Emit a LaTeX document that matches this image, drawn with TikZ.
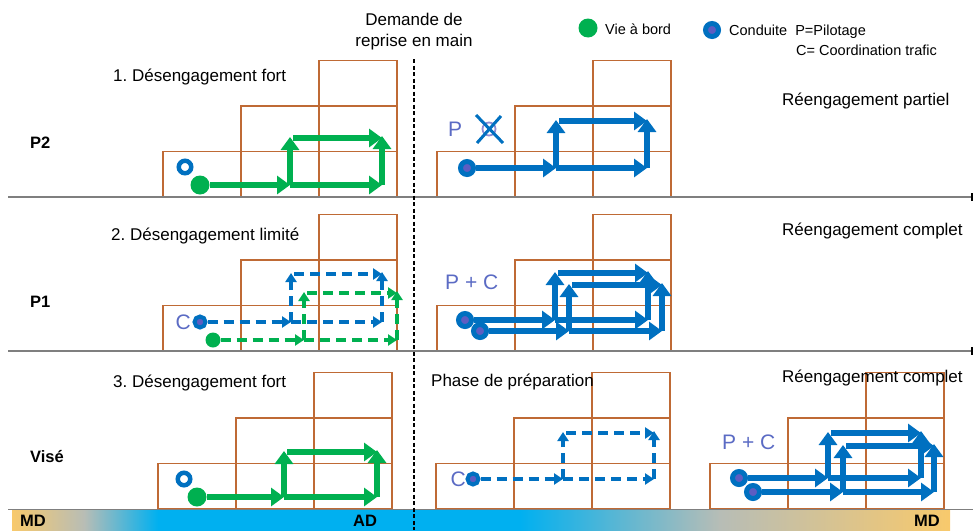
\documentclass[tikz,border=0pt]{standalone}
\usepackage{fontspec}
\setmainfont{Liberation Sans}
\usetikzlibrary{arrows.meta}

\definecolor{vgreen}{HTML}{00B050}
\definecolor{cblue}{HTML}{0070C0}
\definecolor{pcol}{HTML}{5B6BC4}
\definecolor{dotin}{HTML}{5D5DC2}
\definecolor{boxbrown}{HTML}{BF6A35}
\definecolor{sepgray}{HTML}{7F7F7F}
\definecolor{adblue}{HTML}{00B0F0}
\definecolor{mdorange}{HTML}{F8C96C}
\definecolor{midgray}{HTML}{B7BDB6}

\tikzset{
  stepbox/.style={draw=boxbrown, line width=1.2pt},
  sepline/.style={draw=sepgray, line width=2pt},
  gflow/.style={vgreen, line width=6pt, -{Triangle[length=13pt,width=18pt]}},
  bflow/.style={cblue, line width=6pt, -{Triangle[length=13pt,width=18pt]}},
  gdash/.style={vgreen, line width=3.5pt, dash pattern=on 10pt off 6pt, -{Triangle[length=9pt,width=11pt]}},
  bdash/.style={cblue, line width=3.5pt, dash pattern=on 10pt off 6pt, -{Triangle[length=9pt,width=11pt]}},
  gdot/.style={circle, fill=vgreen, inner sep=0pt, minimum size=19pt},
  gdotsmall/.style={gdot, minimum size=15pt},
  bdot/.style={circle, draw=cblue, line width=5pt, fill=dotin, inner sep=0pt, minimum size=13pt},
  bdotsmall/.style={bdot, line width=4pt, minimum size=11pt},
  ring/.style={circle, draw=cblue, line width=4.5pt, inner sep=0pt, minimum size=12.5pt},
  lbl/.style={inner sep=0pt, font=\fontsize{17}{21}\selectfont},
  legend/.style={inner sep=0pt, font=\fontsize{14.5}{17}\selectfont},
  rowlbl/.style={inner sep=0pt, anchor=west, font=\fontsize{16.5}{19}\selectfont\bfseries},
  modelbl/.style={inner sep=0pt, text=pcol, font=\fontsize{21}{24}\selectfont},
}

% staircase of boxes: left x, bottom y
\newcommand{\stairblock}[2]{%
  \foreach \i/\j in {0/0,1/0,2/0,1/1,2/1,2/2}
    \draw[stepbox] (#1+78*\i, #2-45.5*\j) rectangle ++(78,-45.5);}

% loop of arrows: style, start node, base y, first x, second x, top y
\newcommand{\flowloop}[6]{%
  \draw[#1] (#2) -- (#4,#3);
  \draw[#1] (#4,#3) -- (#5,#3);
  \draw[#1] (#4,#3) -- (#4,#6-1);
  \draw[#1] (#4+3,#6) -- (#5,#6);
  \draw[#1] (#5,#3) -- (#5,#6-2);}

\begin{document}
\frenchspacing
\begin{tikzpicture}[x=1pt,y=-1pt]
\useasboundingbox (0,0) rectangle (973,530);

% boxes
\stairblock{163}{197}
\stairblock{437}{197}
\stairblock{163}{351}
\stairblock{437}{351}
\stairblock{158}{509}
\stairblock{436}{509}
\stairblock{710}{509}

% separators
\draw[sepline] (8,197) -- (973,197);
\draw[sepline] (8,351) -- (973,351);
\draw[black, line width=1.5pt] (972,193) -- (972,201);
\draw[black, line width=1.5pt] (972,347) -- (972,355);
\draw[sepgray, line width=1pt] (8,509.5) -- (973,509.5);

% bottom bar
\shade[left color=mdorange, right color=midgray] (12,510) rectangle (85,533);
\shade[left color=midgray, right color=adblue] (84.5,510) rectangle (158,533);
\fill[adblue] (157.5,510) rectangle (520,533);
\shade[left color=adblue, right color=midgray] (519.5,510) rectangle (720,533);
\shade[left color=midgray, right color=mdorange] (719.5,510) rectangle (950,533);
\node[rowlbl] (mdleft) at (20,521) {MD};
\node[rowlbl, anchor=center] (ad) at (365,521) {AD};
\node[rowlbl, anchor=east] (mdright) at (940,521) {MD};

% titles
\node[lbl, align=center] (demande) at (414,32) {Demande de\\reprise en main};
\node[gdot] (vgdot) at (588,28) {};
\node[legend, anchor=west] (vie) at (605,29) {Vie à bord};
\node[bdot] (cdot) at (712,30) {};
\node[legend, anchor=west] (cond) at (729,32) {Conduite\ \ P=Pilotage};
\node[legend, anchor=west] (coord) at (796,50) {C= Coordination trafic};

\node[rowlbl] (p2) at (30,143) {P2};
\node[rowlbl] (p1) at (30,302) {P1};
\node[rowlbl] (vise) at (30,457) {Visé};

\node[lbl, anchor=west] (des1) at (113,77) {1. Désengagement fort};
\node[lbl, anchor=west] (des2) at (111,236) {2. Désengagement limité};
\node[lbl, anchor=west] (des3) at (113,383) {3. Désengagement fort};
\node[lbl, anchor=west] (reeng1) at (782,101) {Réengagement partiel};
\node[lbl, anchor=west] (reeng2) at (782,231) {Réengagement complet};
\node[lbl, anchor=west] (reeng3) at (782,378) {Réengagement complet};
\node[lbl, anchor=west] (prep) at (431,382) {Phase de préparation};

% row P2
\node[ring] (ring1) at (185,167) {};
\node[gdot] (g1) at (200,185) {};
\flowloop{gflow}{g1}{185}{290}{382}{138}
\node[modelbl] (pilot1) at (455,129) {P};
\draw[dotin!70, line width=1.8pt] (489,129) circle (6.5);
\draw[cblue, line width=3pt] (476,115) -- (503,143);
\draw[cblue, line width=3pt] (501,116) -- (477,143);
\node[bdot] (b1) at (467,168) {};
\flowloop{bflow}{b1}{168}{556}{647}{121}

% row P1
\node[modelbl, anchor=east] (coord1) at (191,322) {C};
\node[bdotsmall] (b2) at (200,322) {};
\node[gdotsmall] (g2) at (213,340) {};
\flowloop{bdash}{b2}{322}{291}{382}{274}
\flowloop{gdash}{g2}{340}{304}{397}{293}
\node[modelbl, anchor=west] (pc1) at (445,282) {P + C};
\node[bdot] (b3) at (465,320) {};
\node[bdot] (b4) at (480,331) {};
\flowloop{bflow}{b3}{320}{555}{648}{273}
\flowloop{bflow}{b4}{331}{569}{662}{285}

% row Vise
\node[ring] (ring2) at (184,479) {};
\node[gdot] (g3) at (197,497) {};
\flowloop{gflow}{g3}{497}{284}{377}{452}
\node[modelbl, anchor=east] (coord2) at (466,479) {C};
\node[bdotsmall] (b5) at (473,479) {};
\flowloop{bdash}{b5}{479}{563}{654}{433}
\node[modelbl, anchor=west] (pc2) at (722,442) {P + C};
\node[bdot] (b6) at (739,478) {};
\node[bdot] (b7) at (753,492) {};
\flowloop{bflow}{b6}{478}{828}{921}{433}
\flowloop{bflow}{b7}{492}{843}{934}{446}

% takeover request
\draw[black, line width=1.5pt, dash pattern=on 4pt off 2.5pt] (414,59) -- (414,530);
\end{tikzpicture}
\end{document}
